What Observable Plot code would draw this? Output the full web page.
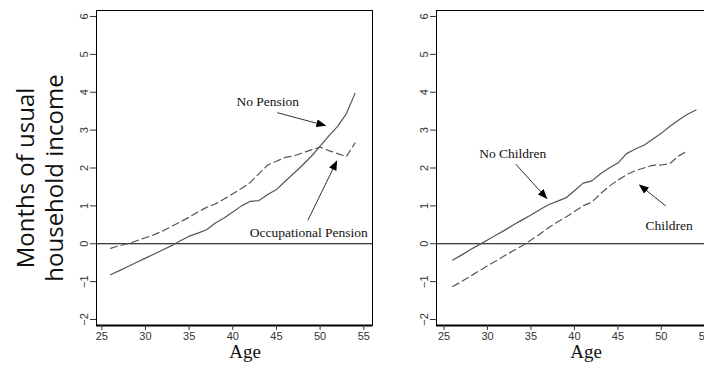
<!DOCTYPE html>
<html>
<head>
<meta charset="utf-8">
<script src="https://cdn.jsdelivr.net/npm/d3@7"></script>
<script src="https://cdn.jsdelivr.net/npm/@observablehq/plot@0.6"></script>
<style>
  html, body { margin: 0; padding: 0; background: #fff; overflow: hidden; }
  #wrap { position: relative; width: 704px; height: 370px; overflow: hidden; }
  .panel { position: absolute; top: 0; }
  .panel svg { max-width: none !important; }
  #p1 { width: 380px; }
  #p2 { width: 340px; }
  .ylab { position: absolute; left: -82px; top: 148px; width: 244px; height: 60px;
          font-family: "Open Sans", sans-serif; font-size: 24px; line-height: 29px;
          text-align: center; color: #111; transform: rotate(-90deg); white-space: nowrap; }
  .xlab { position: absolute; top: 342px; font-family: "Liberation Serif", serif; font-size: 19px;
          line-height: 19px; color: #111; transform: translateX(-50%); }
</style>
</head>
<body>
<div id="wrap">
  <div class="ylab">Months of usual<br>household income</div>
  <div id="p1" class="panel" style="left:0px"></div>
  <div id="p2" class="panel" style="left:380px"></div>
  <div class="xlab" style="left:245px">Age</div>
  <div class="xlab" style="left:586px">Age</div>
</div>
<script>
// ---- data ----
const ages = [26,27,28,29,30,31,32,33,34,35,36,37,38,39,40,41,42,43,44,45,46,47,48,49,50,51,52,53,54];
const noPension = [-0.82,-0.71,-0.60,-0.49,-0.38,-0.27,-0.16,-0.05,0.08,0.20,0.28,0.37,0.55,0.68,0.84,1.00,1.12,1.14,1.30,1.43,1.65,1.86,2.08,2.31,2.58,2.85,3.10,3.43,3.97];
const occPension = [-0.12,-0.05,0.00,0.08,0.16,0.24,0.34,0.46,0.58,0.70,0.84,0.96,1.05,1.18,1.32,1.46,1.62,1.85,2.08,2.18,2.28,2.32,2.40,2.48,2.55,2.46,2.38,2.30,2.66];
const noChildren = [-0.43,-0.30,-0.16,-0.03,0.10,0.23,0.36,0.50,0.63,0.76,0.90,1.03,1.12,1.21,1.40,1.60,1.66,1.85,2.00,2.13,2.38,2.50,2.60,2.76,2.92,3.10,3.27,3.42,3.53];
const childrenAges = [26,27,28,29,30,31,32,33,34,35,36,37,38,39,40,41,42,43,44,45,46,47,48,49,50,51,52,53];
const children = [-1.13,-1.00,-0.86,-0.72,-0.58,-0.45,-0.31,-0.18,-0.05,0.10,0.25,0.42,0.57,0.70,0.85,1.00,1.10,1.32,1.52,1.68,1.82,1.93,2.00,2.07,2.08,2.12,2.32,2.45];
const xTicks = [25,30,35,40,45,50,55];
const yTicks = [-2,-1,0,1,2,3,4,5,6];

// annotations (data units)
const leftLabels = [
  {text: "No Pension", x: 44.0, y: 3.74},
  {text: "Occupational Pension", x: 48.7, y: 0.28}
];
const leftArrows = [
  {x1: 45.1, y1: 3.46, x2: 50.6, y2: 3.12},
  {x1: 48.6, y1: 0.62, x2: 51.9, y2: 2.18}
];
const rightLabels = [
  {text: "No Children", x: 32.9, y: 2.38},
  {text: "Children", x: 50.9, y: 0.47}
];
const rightArrows = [
  {x1: 33.25, y1: 2.10, x2: 36.8, y2: 1.20},
  {x1: 50.5, y1: 1.00, x2: 47.5, y2: 1.55}
];

const tri = (color, context) => {
  const m = d3.create("svg:marker")
    .attr("viewBox", "-9 -4 10 8")
    .attr("markerWidth", 10).attr("markerHeight", 8)
    .attr("markerUnits", "userSpaceOnUse")
    .attr("orient", "auto").attr("refX", 0).attr("refY", 0)
    .attr("fill", "#000").attr("stroke", "none");
  m.append("path").attr("d", "M-9,-4L1,0L-9,4Z");
  return m.node();
};

function panel({width, marginLeft, marginRight, xDomain, s1, s2, labels, arrows}) {
  const yDomain = [-2.158, 6.158];
  return Plot.plot({
    width, height: 370,
    marginLeft, marginRight, marginTop: 10, marginBottom: 45,
    style: {fontFamily: "Liberation Sans, Arial, sans-serif", fontSize: "11px", color: "#333", background: "transparent", overflow: "visible", maxWidth: "none"},
    x: {domain: xDomain, ticks: xTicks},
    y: {domain: yDomain, ticks: yTicks},
    marks: [
      Plot.frame({stroke: "#000", strokeWidth: 1}),
      Plot.ruleY([yDomain[0]], {stroke: "#000", strokeWidth: 2}),
      Plot.ruleY([0], {stroke: "#000", strokeWidth: 1}),
      Plot.axisX({ticks: xTicks, tickSize: 5, tickPadding: 2, label: null, stroke: "#333"}),
      Plot.axisY({ticks: yTicks, tickSize: 6, tickPadding: 3, tickRotate: -90, label: null, stroke: "#333"}),
      Plot.lineY(s1.y, {x: s1.x, y: s1.y, stroke: "#555", strokeWidth: 1.2}),
      Plot.lineY(s2.y, {x: s2.x, y: s2.y, stroke: "#555", strokeWidth: 1.2, strokeDasharray: "7,4"}),
      Plot.link(arrows, {x1: "x1", y1: "y1", x2: "x2", y2: "y2", stroke: "#333", strokeWidth: 1, markerEnd: tri}),
      Plot.text(labels, {x: "x", y: "y", text: "text", fontFamily: "Liberation Serif, serif", fontSize: 13.5, fill: "#111"})
    ]
  });
}

document.getElementById("p1").append(panel({
  width: 380, marginLeft: 96, marginRight: 8, xDomain: [24.39, 56.0],
  s1: {x: ages, y: noPension}, s2: {x: ages, y: occPension},
  labels: leftLabels, arrows: leftArrows
}));
document.getElementById("p2").append(panel({
  width: 340, marginLeft: 56, marginRight: 7, xDomain: [24.13, 56.0],
  s1: {x: ages, y: noChildren}, s2: {x: childrenAges, y: children},
  labels: rightLabels, arrows: rightArrows
}));
</script>
</body>
</html>
